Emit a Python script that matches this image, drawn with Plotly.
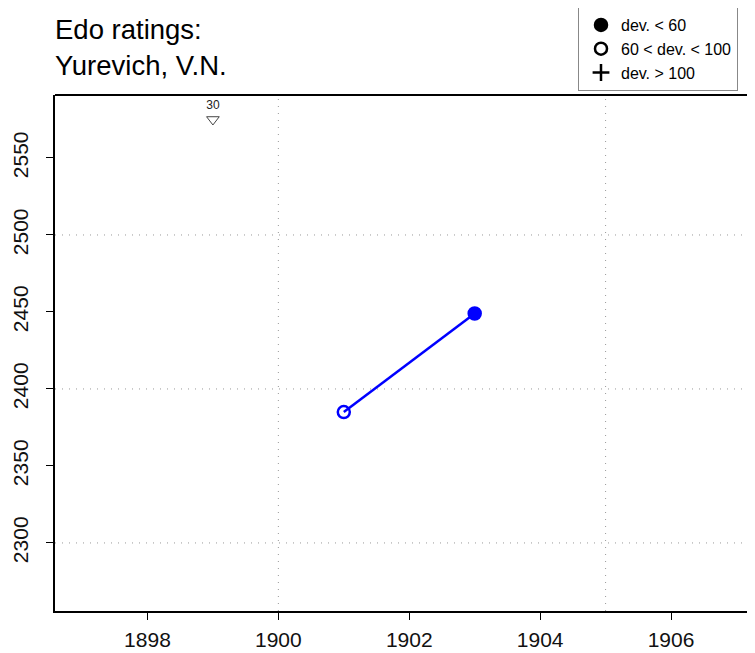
import plotly.graph_objects as go

# ---- data ----
years = [1901, 1903]
ratings = [2385, 2449]
dev_class = ["mid", "low"]          # 60<dev<100 -> open, dev<60 -> filled
games_year = [1899]
games_level = [2575]
games_label = ["30"]

x_ticks = [1898, 1900, 1902, 1904, 1906]
y_ticks = [2300, 2350, 2400, 2450, 2500, 2550]
x_grid = [1900, 1905]
y_grid = [2300, 2400, 2500]

legend_labels = ["dev. < 60", "60 < dev. < 100", "dev. > 100"]

BLUE = "#0000FF"
FONT = "Liberation Sans, Arial, Helvetica, sans-serif"

sym_map = {"low": "circle", "mid": "circle-open", "high": "cross-thin"}

fig = go.Figure()

fig.add_trace(go.Scatter(
    x=years, y=ratings, mode="lines+markers",
    line=dict(color=BLUE, width=2.5),
    marker=dict(symbol=[sym_map[d] for d in dev_class], size=12,
                color=BLUE, line=dict(color=BLUE, width=2.5)),
    showlegend=False, hoverinfo="skip",
))

fig.add_trace(go.Scatter(
    x=games_year, y=games_level, mode="markers+text",
    text=games_label, textposition="top center",
    textfont=dict(family=FONT, size=12, color="#222"),
    marker=dict(symbol="triangle-down-open", size=11,
                color="#444", line=dict(color="#444", width=1)),
    showlegend=False, hoverinfo="skip",
))

# legend entries
leg_syms = ["circle", "circle-open", "cross-thin"]
for lab, s in zip(legend_labels, leg_syms):
    fig.add_trace(go.Scatter(
        x=[None], y=[None], mode="markers", name=lab,
        marker=dict(symbol=s, size=12, color="black",
                    line=dict(color="black", width=2.5)),
    ))

shapes = []
for gx in x_grid:
    shapes.append(dict(type="line", xref="x", yref="paper", x0=gx, x1=gx, y0=0, y1=1,
                       line=dict(color="#999", width=1, dash="1px,6px"), layer="below"))
for gy in y_grid:
    shapes.append(dict(type="line", xref="paper", yref="y", x0=0, x1=1, y0=gy, y1=gy,
                       line=dict(color="#999", width=1, dash="1px,6px"), layer="below"))
# top frame line
shapes.append(dict(type="line", xref="paper", yref="paper", x0=0, x1=1, y0=1, y1=1,
                   line=dict(color="black", width=2)))

PW = 692  # plot width in px
PH = 516  # plot height in px

fig.update_layout(
    width=739, height=645,
    margin=dict(l=47, r=0, t=87, b=42, autoexpand=False),
    paper_bgcolor="white", plot_bgcolor="white",
    font=dict(family=FONT, color="black"),
    shapes=shapes,
    xaxis=dict(range=[1896.587, 1907.161], tickvals=x_ticks,
               showline=True, linewidth=2, linecolor="black",
               ticks="outside", ticklen=7, tickwidth=1, tickcolor="black",
               showgrid=False, zeroline=False,
               tickfont=dict(family=FONT, size=21, color="#111"),
               ticklabelstandoff=2),
    yaxis=dict(range=[2255.8, 2590.9], tickvals=y_ticks,
               showline=True, linewidth=2, linecolor="black",
               ticks="outside", ticklen=7, tickwidth=1, tickcolor="black",
               showgrid=False, zeroline=False, tickangle=-90,
               tickfont=dict(family=FONT, size=21, color="#111"),
               ticklabelstandoff=10),
    legend=dict(x=(578 - 55) / PW, y=(611 - 7) / PH, xanchor="left", yanchor="top",
                bgcolor="white", bordercolor="#888", borderwidth=1,
                font=dict(family=FONT, size=16, color="black"),
                tracegroupgap=0, entrywidth=125, indentation=2),
    annotations=[dict(
        xref="paper", yref="paper", x=(-2) / PW, y=(611 - 12) / PH,
        xanchor="left", yanchor="top", align="left", showarrow=False,
        text="Edo ratings:<br>Yurevich, V.N.",
        font=dict(family=FONT, size=27.5, color="black"),
    )],
)

fig.write_html("out.html")
